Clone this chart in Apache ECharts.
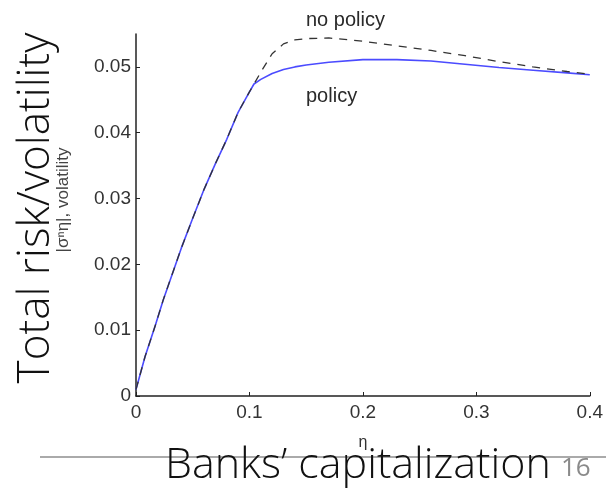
<!DOCTYPE html>
<html><head><meta charset="utf-8">
<script src="https://cdn.jsdelivr.net/npm/echarts@6/dist/echarts.min.js"></script>
<style>html,body{margin:0;padding:0;background:#fff}#c{width:606px;height:490px}</style>
</head><body><div id="c"></div>
<script>
const etaValues = [0, 0.008, 0.017, 0.024, 0.04, 0.05, 0.06, 0.07, 0.08, 0.09, 0.1, 0.104, 0.11, 0.12, 0.13, 0.14, 0.15, 0.17, 0.2, 0.23, 0.26, 0.29, 0.32, 0.35, 0.38, 0.4];
const policyValues = [0.001, 0.006, 0.0107, 0.0146, 0.0225, 0.027, 0.0314, 0.0353, 0.039, 0.0431, 0.0462, 0.0474, 0.0481, 0.0490, 0.0496, 0.0500, 0.0503, 0.0507, 0.0511, 0.0511, 0.0509, 0.0504, 0.0499, 0.0495, 0.0491, 0.0488];
const noPolicyValues = [0.001, 0.006, 0.0107, 0.0146, 0.0225, 0.027, 0.0314, 0.0353, 0.039, 0.0431, 0.0462, 0.0474, 0.0492, 0.0520, 0.0535, 0.0541, 0.0543, 0.0544, 0.0539, 0.0532, 0.0525, 0.0517, 0.0508, 0.0500, 0.0493, 0.0489];
const xTicks = [0, 0.1, 0.2, 0.3, 0.4];
const yTicks = [0, 0.01, 0.02, 0.03, 0.04, 0.05];
const seriesNames = ['policy', 'no policy'];

const chart = echarts.init(document.getElementById('c'));
const mat = {fontFamily: 'Liberation Sans', color: '#333', fontSize: 19};
chart.setOption({
  animation: false,
  backgroundColor: '#fff',
  grid: {left: 136, right: 13, top: 34, bottom: 94},
  xAxis: {
    type: 'value', min: 0, max: 0.4, interval: 0.1,
    axisLine: {lineStyle: {color: '#222', width: 1.5}},
    axisTick: {inside: true, length: 4, lineStyle: {color: '#222'}, customValues: xTicks},
    axisLabel: Object.assign({margin: 7, customValues: xTicks}, mat),
    splitLine: {show: false},
    name: 'η', nameLocation: 'middle', nameGap: 39,
    nameTextStyle: {fontFamily: 'Liberation Sans', color: '#333', fontSize: 16}
  },
  yAxis: {
    type: 'value', min: 0, max: 0.055, interval: 0.01,
    axisLine: {show: true, lineStyle: {color: '#222', width: 1.5}},
    axisTick: {show: true, inside: true, length: 4, lineStyle: {color: '#222'}, customValues: yTicks},
    axisLabel: Object.assign({margin: 5, customValues: yTicks}, mat),
    splitLine: {show: false},
    name: '|σⁿη|, volatility', nameLocation: 'middle', nameGap: 64, nameRotate: 90,
    nameTextStyle: {fontFamily: 'Liberation Sans', color: '#444', fontSize: 17, padding: [0, 0, 0, 30]}
  },
  series: [
    {name: seriesNames[0], type: 'line', showSymbol: false, z: 2,
     data: etaValues.map((x, i) => [x, policyValues[i]]),
     lineStyle: {color: '#4b4bff', width: 1.6}},
    {name: seriesNames[1], type: 'line', showSymbol: false, z: 3,
     data: etaValues.map((x, i) => [x, noPolicyValues[i]]),
     lineStyle: {color: '#333', width: 1.3, type: [8, 7]}}
  ],
  graphic: [
    {type: 'text', x: 306, y: 20, style: {text: 'no policy', font: '20px "Liberation Sans"', fill: '#2a2a2a', verticalAlign: 'middle'}},
    {type: 'text', x: 306, y: 96, style: {text: 'policy', font: '20px "Liberation Sans"', fill: '#2a2a2a', verticalAlign: 'middle'}},
    {type: 'line', shape: {x1: 40, y1: 457, x2: 606, y2: 457}, style: {stroke: '#aaa', lineWidth: 2}},
    {type: 'text', x: 165, y: 466, z: 10, style: {text: 'Banks’ capitalization', font: '300 43px "Open Sans"', fill: '#111', verticalAlign: 'middle'}},
    {type: 'text', x: 561, y: 469, style: {text: '16', font: '26px "Open Sans"', fill: '#8a8a8a', verticalAlign: 'middle'}},
    {type: 'text', x: 36, y: 208, rotation: Math.PI / 2, style: {text: 'Total risk/volatility', font: '300 44px "Open Sans"', fill: '#111', align: 'center', verticalAlign: 'middle'}}
  ]
});
</script></body></html>
